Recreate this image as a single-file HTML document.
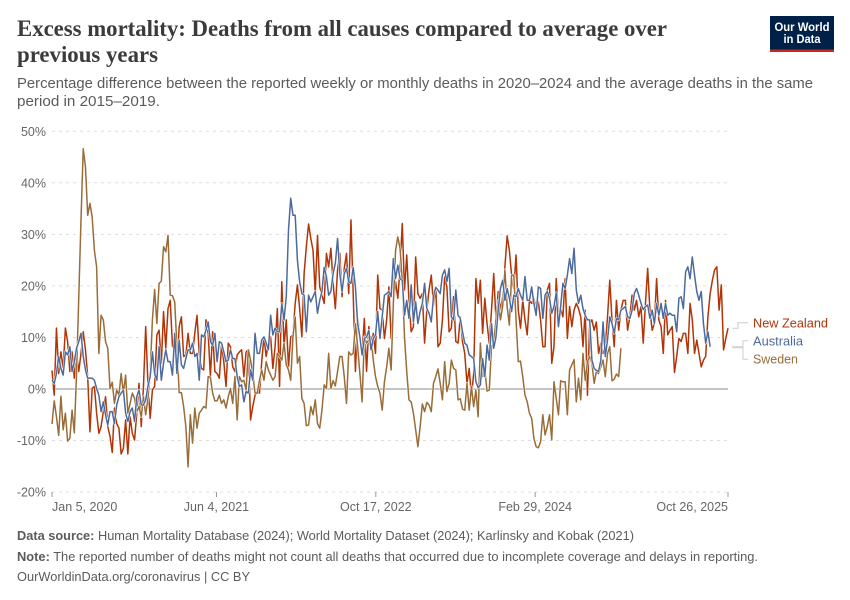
<!DOCTYPE html>
<html>
<head>
<meta charset="utf-8">
<title>Excess mortality</title>
<style>
html,body{margin:0;padding:0;background:#fff;width:850px;height:600px;overflow:hidden}
svg{display:block}
text{font-family:"Liberation Sans",sans-serif}
</style>
</head>
<body>
<svg id="chart" width="850" height="600" viewBox="0 0 850 600">
<rect width="850" height="600" fill="#fff"/>
<text x="17" y="36" font-size="23" font-weight="bold" fill="#3b3b3b" textLength="650" lengthAdjust="spacingAndGlyphs" style="font-family:'Liberation Serif',serif">Excess mortality: Deaths from all causes compared to average over</text>
<text x="17" y="62" font-size="23" font-weight="bold" fill="#3b3b3b" textLength="141" lengthAdjust="spacingAndGlyphs" style="font-family:'Liberation Serif',serif">previous years</text>
<text x="17" y="88" font-size="14.5" fill="#5b5b5b" textLength="796" lengthAdjust="spacingAndGlyphs">Percentage difference between the reported weekly or monthly deaths in 2020–2024 and the average deaths in the same</text>
<text x="17" y="106" font-size="14.5" fill="#5b5b5b" textLength="143" lengthAdjust="spacingAndGlyphs">period in 2015–2019.</text>
<g>
<rect x="770" y="16" width="64" height="36" fill="#002147"/>
<rect x="770" y="49.5" width="64" height="2.5" fill="#ce261e"/>
<text x="802" y="31" font-size="11.5" font-weight="bold" fill="#fff" text-anchor="middle" textLength="55" lengthAdjust="spacingAndGlyphs">Our World</text>
<text x="802" y="43" font-size="11.5" font-weight="bold" fill="#fff" text-anchor="middle" textLength="37" lengthAdjust="spacingAndGlyphs">in Data</text>
</g>
<g id="grid"></g>
<g id="series"></g>
<g id="axis"></g>
<g>
<path d="M732.3 328.3H738V322.7H748.3" fill="none" stroke="#ccc"/>
<path d="M732.3 346.7H743V340.7H748.3" fill="none" stroke="#ccc"/>
<path d="M732.3 347.7H743V359.3H748.3" fill="none" stroke="#ccc"/>
<text x="753" y="327.5" font-size="12.5" fill="#b13507" textLength="75" lengthAdjust="spacingAndGlyphs">New Zealand</text>
<text x="753" y="345.5" font-size="12.5" fill="#4c6a9c" textLength="50" lengthAdjust="spacingAndGlyphs">Australia</text>
<text x="753" y="363.5" font-size="12.5" fill="#996d39" textLength="45" lengthAdjust="spacingAndGlyphs">Sweden</text>
</g>
<text x="17" y="540" font-size="12.5" fill="#5b5b5b" textLength="617" lengthAdjust="spacingAndGlyphs"><tspan font-weight="bold">Data source:</tspan> Human Mortality Database (2024); World Mortality Dataset (2024); Karlinsky and Kobak (2021)</text>
<text x="17" y="561" font-size="12.5" fill="#5b5b5b" textLength="741" lengthAdjust="spacingAndGlyphs"><tspan font-weight="bold">Note:</tspan> The reported number of deaths might not count all deaths that occurred due to incomplete coverage and delays in reporting.</text>
<text x="17" y="581" font-size="12.5" fill="#5b5b5b" textLength="233" lengthAdjust="spacingAndGlyphs">OurWorldinData.org/coronavirus | CC BY</text>
</svg>
<script>
const newZealand = [3.6,-1.2,11.8,3.0,7.2,4.0,11.8,9.2,3.4,7.2,2.1,6.9,3.4,6.9,11.1,7.6,2.4,-8.3,0.1,0.5,-4.7,-8.6,-7.3,-4.4,-1.5,-7.3,-9.2,-12.3,-3.7,-6.7,-7.6,-12.6,-11.5,-6.0,-12.6,-5.4,-8.6,-9.9,-4.7,1.1,-7.3,0.5,12.1,1.1,-5.7,-0.2,0.5,10.5,11.4,5.0,15.0,7.9,15.6,17.2,8.2,10.1,3.7,12.1,14.0,6.3,6.6,10.8,6.9,6.9,10.8,14.3,6.9,4.0,3.7,13.4,10.8,2.4,11.1,3.4,3.0,2.1,8.5,5.3,0.5,8.9,8.2,4.3,3.4,6.6,7.2,7.6,2.4,7.2,7.6,-6.0,-3.4,-1.2,-0.5,-0.8,
5.3,10.1,6.3,8.9,10.1,4.0,8.2,15.6,0.5,20.8,8.2,13.4,4.3,10.1,10.5,16.6,20.2,15.6,10.1,22.4,27.6,32.0,29.2,26.9,18.5,29.8,19.8,18.2,16.6,26.3,23.7,27.3,20.5,15.6,23.1,26.3,17.9,23.4,26.3,18.5,32.8,18.5,3.4,14.0,10.1,6.9,13.7,3.4,12.1,7.9,10.8,6.9,22.1,15.6,15.3,9.8,13.4,19.8,9.8,16.6,20.8,17.6,23.4,32.1,19.2,26.0,17.2,11.1,12.1,25.6,18.5,17.6,18.5,8.9,15.3,19.2,22.1,16.3,19.8,8.2,8.9,13.4,21.8,19.8,11.1,11.8,17.9,9.2,8.9,14.0,9.2,6.9,1.1,4.0,-1.5,3.0,21.4,16.6,21.1,10.8,17.6,12.7,8.9,
15.3,22.4,13.4,18.9,15.3,17.9,23.7,29.7,26.9,22.1,19.5,26.0,15.3,11.8,17.2,13.4,10.5,17.2,16.6,17.6,15.3,16.9,13.4,8.2,8.2,19.2,20.5,5.0,8.2,21.4,14.3,15.6,14.0,21.4,9.8,16.0,12.1,15.3,16.6,15.6,14.0,8.2,15.3,-1.2,12.7,13.4,11.4,13.0,6.9,8.9,6.9,8.2,14.0,21.1,13.4,8.2,17.2,11.4,15.3,17.2,17.2,11.4,14.0,18.2,15.3,17.2,14.0,16.0,8.9,16.6,23.4,15.3,11.4,12.7,21.4,13.4,12.1,6.9,17.2,10.5,11.4,12.1,3.2,6.3,9.8,9.2,10.8,10.8,6.9,16.6,13.4,6.9,9.5,6.9,4.3,5.6,6.3,14.0,18.5,21.1,23.1,23.7,15.3,20.2,7.6,9.8,11.8];

const sweden = [-6.8,-2.3,-5.4,-9.0,-1.4,-7.9,-4.7,-10.1,-9.6,-4.1,-8.5,3.0,17.9,32.8,46.6,43.1,33.7,36.0,33.4,26.9,23.7,6.9,14.3,13.4,9.2,7.9,0.1,1.3,-2.8,-0.2,-1.2,3.0,-0.8,2.7,-4.7,-2.8,-0.8,-1.8,-4.4,-3.4,-5.4,-1.5,-5.0,-1.8,3.0,13.4,19.3,12.7,20.5,20.9,27.6,26.6,29.8,18.2,18.1,16.9,8.2,-0.7,-0.7,-3.4,-7.3,-15.1,-5.0,-10.5,-3.7,-7.6,-4.7,-4.1,-3.4,-3.7,2.4,2.3,-0.8,-2.3,-2.3,-1.2,-2.8,-2.1,-3.7,-1.5,0.1,-2.8,2.4,-6.0,2.4,1.4,1.7,-0.2,7.6,5.6,3.0,-0.8,-0.8,1.7,
3.7,1.7,5.3,3.7,2.7,1.7,2.4,6.9,6.3,5.6,8.9,4.7,3.7,1.7,10.1,14.0,5.0,6.3,-1.8,-2.8,-7.1,-7.0,-3.4,-5.0,-2.1,-6.7,-7.6,-4.1,0.8,0.1,6.9,0.1,1.6,0.6,3.4,6.3,6.3,2.4,-2.8,7.2,6.6,6.9,12.7,8.2,3.0,-2.5,10.1,8.9,9.5,10.1,5.6,2.4,0.5,-0.8,-4.1,1.4,4.3,7.9,3.7,16.6,26.9,29.5,27.3,21.1,10.1,3.4,-2.1,-2.5,-4.7,-7.9,-11.2,-7.3,-2.9,-4.4,-2.6,-3.1,-4.4,1.1,2.4,3.9,1.1,-2.1,5.3,-0.5,1.1,5.6,4.0,3.7,-2.1,-1.9,-3.9,-4.1,1.1,-4.1,0.5,-3.4,-0.2,-5.4,8.9,2.4,3.7,-0.4,-0.2,
8.2,8.9,13.4,17.2,13.4,16.0,23.1,16.0,12.4,22.1,22.1,13.4,5.3,5.4,2.4,-1.2,-2.5,-4.7,-5.7,-9.6,-11.2,-11.4,-10.2,-5.0,-8.9,-7.3,-5.0,-9.9,1.4,-1.8,-5.0,1.6,1.4,1.4,-5.0,3.7,4.7,5.7,-2.5,2.1,-2.1,6.9,1.7,5.3,6.3,5.0,1.1,3.4,3.0,4.3,5.6,2.4,6.9,8.2,1.6,1.9,2.9,2.4,7.9];

const australia = [1.7,1.1,3.0,6.3,4.0,2.7,7.2,6.6,8.2,3.4,5.3,7.9,9.2,10.8,6.3,3.7,2.1,2.1,2.1,1.7,0.1,-1.2,-4.4,-2.5,-5.0,-7.0,-4.4,-4.4,-6.7,-3.1,-1.5,-0.8,-0.2,-4.7,-6.3,-4.4,-3.7,-6.3,-1.5,-0.2,-3.1,-3.1,-2.1,0.5,2.4,7.2,3.0,1.7,8.2,1.7,5.0,7.6,5.3,5.3,2.7,10.8,3.0,9.5,4.7,4.0,5.9,7.6,7.6,8.9,6.3,6.9,1.7,10.5,10.1,11.4,13.0,9.2,8.5,10.8,5.3,9.2,8.9,7.2,5.3,5.6,7.6,5.9,5.9,2.4,0.5,0.8,-2.5,-0.5,-0.8,3.7,1.7,10.8,6.9,6.9,
9.5,10.1,8.9,7.6,14.3,10.5,11.8,11.1,11.1,16.6,13.4,17.9,30.8,37.0,33.7,33.7,25.0,20.8,18.5,18.2,11.1,18.2,16.9,17.9,18.9,14.7,17.2,18.9,23.6,21.8,18.2,18.9,22.4,24.4,29.2,22.4,18.9,22.4,23.4,20.8,20.5,23.6,19.8,12.7,10.1,6.6,9.8,10.1,11.4,7.6,9.8,10.5,15.0,9.8,14.0,18.2,18.5,18.9,17.9,25.3,21.4,24.0,21.4,21.1,14.3,17.2,13.7,20.2,13.0,16.9,12.7,15.0,16.6,20.5,15.6,14.7,13.0,17.9,19.7,19.2,18.5,22.1,23.1,20.8,23.4,14.0,13.4,19.2,14.3,13.7,11.1,8.9,8.5,6.6,6.3,5.9,1.4,0.3,0.8,5.9,2.4,8.5,5.6,
12.7,7.9,10.1,15.3,19.5,21.1,17.2,19.5,17.6,15.0,18.2,17.9,19.5,18.2,17.2,21.8,17.2,17.2,19.8,16.6,14.3,19.8,19.5,13.7,18.2,18.9,17.6,14.7,16.0,18.7,12.1,16.0,20.5,19.5,22.1,25.3,22.4,27.3,19.2,16.6,18.2,15.6,14.3,13.4,13.4,5.6,4.0,3.6,3.4,5.6,13.0,6.3,9.5,14.0,12.7,10.8,13.7,13.4,15.3,15.6,16.0,14.0,13.7,15.3,18.5,19.5,18.2,16.6,15.4,16.0,16.3,13.7,15.3,12.7,16.6,14.3,16.6,13.7,16.6,14.3,14.7,14.3,14.3,11.1,17.6,17.9,15.6,22.7,23.7,21.4,25.6,22.1,18.9,17.2,18.9,12.7,8.9,11.1,8.2];

const yTicks = [-20,-10,0,10,20,30,40,50];
const xTickDays = [0,516,1016,1516,2121];
const xTickLabels = ["Jan 5, 2020","Jun 4, 2021","Oct 17, 2022","Feb 29, 2024","Oct 26, 2025"];

const NS = "http://www.w3.org/2000/svg";
const maxDay = 2121;
function xScale(day){ return 52 + day / maxDay * 676; }
function yScale(v){ return 389 - v * 5.155; }
function weekPath(vals){
  return vals.map(function(v,i){ return (i ? "L" : "M") + xScale(i*7).toFixed(2) + " " + yScale(v).toFixed(2); }).join("");
}

const grid = document.getElementById("grid");
yTicks.forEach(function(t){
  const line = document.createElementNS(NS,"line");
  line.setAttribute("x1",52); line.setAttribute("x2",728);
  line.setAttribute("y1",yScale(t)); line.setAttribute("y2",yScale(t));
  line.setAttribute("stroke", t===0 ? "#a1a1a1" : "#dddddd");
  line.setAttribute("stroke-width", t===0 ? 1.3 : 1);
  if(t!==0) line.setAttribute("stroke-dasharray","3,4");
  
  
  grid.appendChild(line);
  const lab = document.createElementNS(NS,"text");
  lab.setAttribute("x",46); lab.setAttribute("y",yScale(t)+4.5);
  lab.setAttribute("text-anchor","end"); lab.setAttribute("font-size","12.5");
  lab.setAttribute("fill","#666");
  lab.textContent = t + "%";
  
  
  grid.appendChild(lab);
});

const axis = document.getElementById("axis");
xTickDays.forEach(function(d,i){
  const tick = document.createElementNS(NS,"line");
  tick.setAttribute("x1",xScale(d)); tick.setAttribute("x2",xScale(d));
  tick.setAttribute("y1",492); tick.setAttribute("y2",497);
  tick.setAttribute("stroke","#999");
  
  
  axis.appendChild(tick);
  const lab = document.createElementNS(NS,"text");
  lab.setAttribute("x",xScale(d)); lab.setAttribute("y",511);
  lab.setAttribute("font-size","12.5"); lab.setAttribute("fill","#666");
  lab.setAttribute("text-anchor", i===0 ? "start" : (i===xTickDays.length-1 ? "end" : "middle"));
  lab.textContent = xTickLabels[i];
  
  
  axis.appendChild(lab);
});

const seriesGroup = document.getElementById("series");
function drawSeries(vals, color, name){
  const halo = document.createElementNS(NS,"path");
  halo.setAttribute("d",weekPath(vals));
  halo.setAttribute("fill","none");
  halo.setAttribute("stroke","#fff");
  halo.setAttribute("stroke-width","2.5");
  halo.setAttribute("stroke-linejoin","round");
  
  
  seriesGroup.appendChild(halo);
  const p = document.createElementNS(NS,"path");
  p.setAttribute("d",weekPath(vals));
  p.setAttribute("fill","none");
  p.setAttribute("stroke",color);
  p.setAttribute("stroke-width","1.5");
  p.setAttribute("stroke-linejoin","round");
  
  
  seriesGroup.appendChild(p);
}
drawSeries(newZealand,"#b13507","new-zealand-line");
drawSeries(sweden,"#996d39","sweden-line");
drawSeries(australia,"#4c6a9c","australia-line");
</script>
</body>
</html>
